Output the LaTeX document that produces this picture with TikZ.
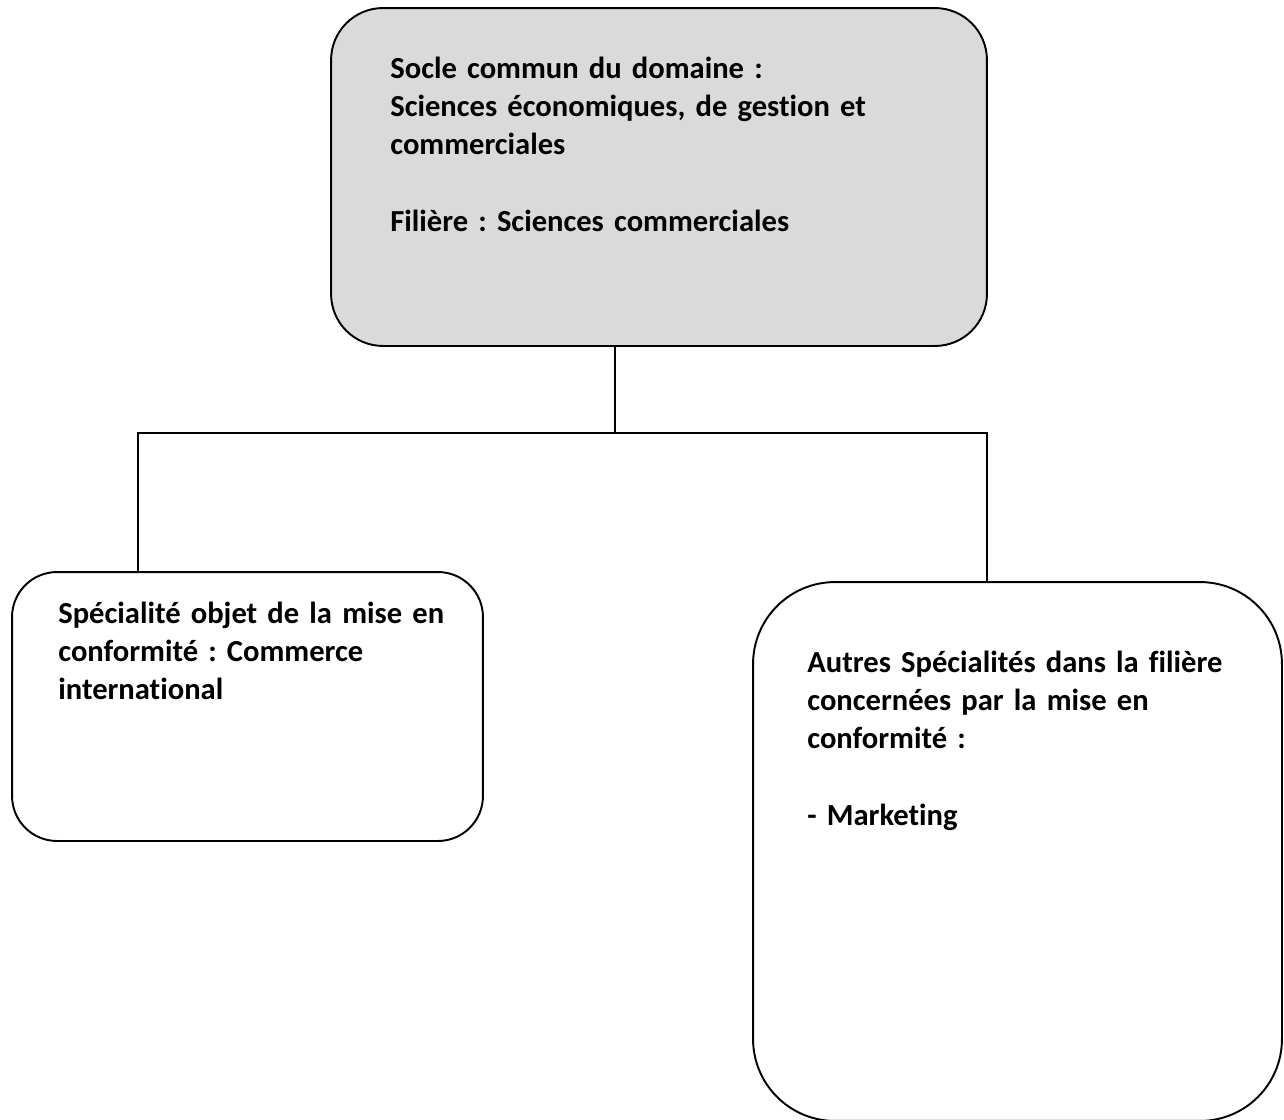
\documentclass[tikz,border=0pt]{standalone}
\usepackage{fontspec}
\setmainfont{Carlito}[Ligatures={NoCommon}]
\usepackage{xcolor}
\usetikzlibrary{positioning, calc}
\definecolor{soclegray}{RGB}{218,218,218}
\tikzset{
    box/.style={draw, line width=1.1pt, rounded corners=#1, inner sep=0pt},
    boxtext/.style={anchor=base west, inner sep=0pt, align=left,
        font=\frenchspacing\bfseries\fontsize{17.4}{21.9}\selectfont},
    link/.style={draw, line width=1.1pt}
}

\begin{document}
\begin{tikzpicture}[x=0.02cm, y=-0.02cm]
\useasboundingbox (0,0) rectangle (1284,1119);

% upper box
\node[box=1.04cm, fill=soclegray, minimum width=13.12cm, minimum height=6.76cm] (socle) at (659,177) {};
\node[boxtext, text width=11cm] (socletext) at (390,78)
    {Socle commun du domaine :\\
     Sciences économiques, de gestion et\\
     commerciales\\[21.9pt]
     Filière : Sciences commerciales};

% lower left
\node[box=0.9cm, minimum width=9.42cm, minimum height=5.38cm] (comint) at (247.5,706.5) {};
\node[boxtext, text width=8.8cm] (cominttext) at (58,623)
    {Spécialité objet de la mise en\\
     conformité : Commerce\\
     international};

% lower right
\node[box=1.64cm, minimum width=10.58cm, minimum height=10.78cm] (autres) at (1017.5,851.5) {};
\node[boxtext, text width=9.5cm] (autrestext) at (807,672)
    {Autres Spécialités dans la filière\\
     concernées par la mise en\\
     conformité :\\[21.9pt]
     - Marketing};

% tree lines
\coordinate (split) at (615,433);
\coordinate (lfoot) at (138,433);
\coordinate (rfoot) at (987,433);
\draw[link] (split |- socle.south) -- (split);
\draw[link] (lfoot |- comint.north) |- (split) -| (rfoot |- autres.north);
\end{tikzpicture}
\end{document}
